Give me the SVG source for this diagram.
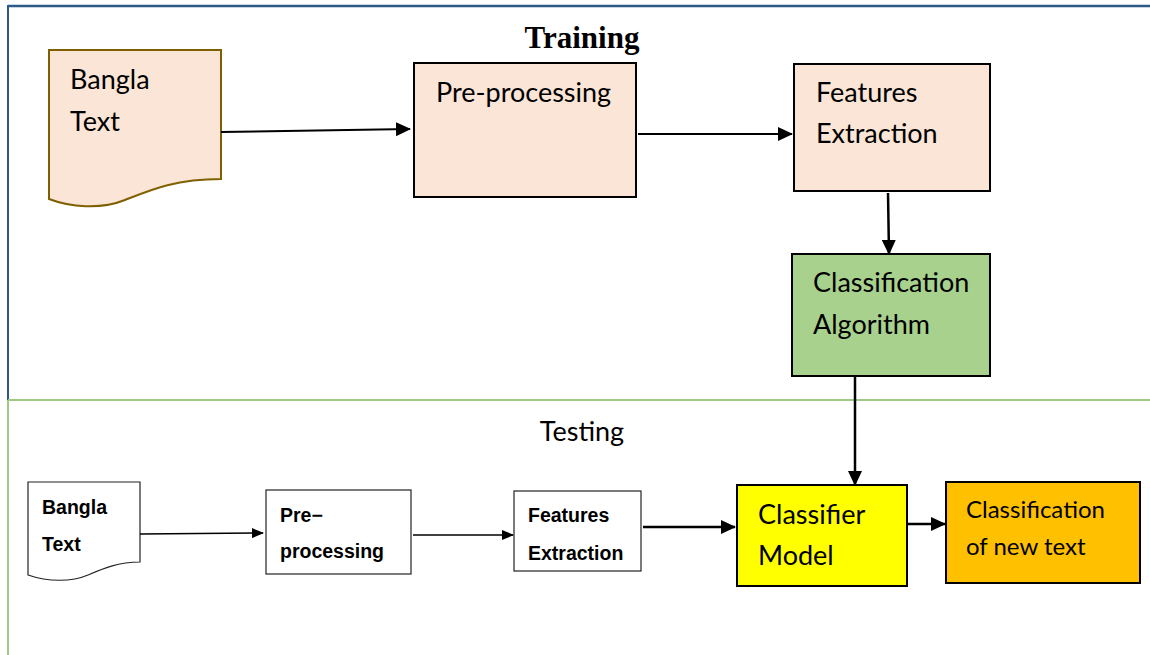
<svg xmlns="http://www.w3.org/2000/svg" width="1150" height="655" viewBox="0 0 1150 655">
<style>
.cal{font-family:Lato,"Open Sans","Liberation Sans",sans-serif;fill:#000}
.ar{font-family:"Liberation Sans",Arial,sans-serif;font-weight:bold;fill:#000}
.box{stroke:#000;stroke-width:2}
.peach{fill:#fbe5d6}
.thin{fill:#fff;stroke:#222;stroke-width:1.2}
.con{fill:none;stroke:#000}
</style>
<defs>
<marker id="ah" markerUnits="userSpaceOnUse" markerWidth="16" markerHeight="14" refX="14" refY="7" orient="auto">
<path d="M0,0 L15,7 L0,14 Z" fill="#000"/>
</marker>
<marker id="ahs" markerUnits="userSpaceOnUse" markerWidth="12" markerHeight="10" refX="11" refY="5" orient="auto">
<path d="M0,0 L12,5 L0,10 Z" fill="#000"/>
</marker>
</defs>
<rect width="1150" height="655" fill="#fff"/>
<g id="frame">
<line x1="8" y1="6" x2="1150" y2="6" stroke="#2e5a8a" stroke-width="2.5"/>
<line x1="8" y1="5" x2="8" y2="400" stroke="#2e5a8a" stroke-width="2"/>
<line x1="8" y1="400" x2="1150" y2="400" stroke="#9fc984" stroke-width="2"/>
<line x1="8" y1="400" x2="8" y2="655" stroke="#9fc984" stroke-width="2"/>
</g>
<text x="582" y="48" text-anchor="middle" font-family="'Liberation Serif','Times New Roman',serif" font-weight="bold" font-size="31">Training</text>
<text x="582" y="441" text-anchor="middle" class="cal" font-size="27">Testing</text>

<g id="train-doc">
<path d="M49,50 H221 V179 C175,179 150,190 125,200 C100,210 70,207 49,199 Z" fill="#fbe5d6" stroke="#7f6000" stroke-width="2"/>
<text class="cal" font-size="27" x="70" y="89">Bangla</text>
<text class="cal" font-size="27" x="70" y="131">Text</text>
</g>
<g id="train-pre">
<rect x="414" y="63" width="222" height="134" class="box peach"/>
<text class="cal" font-size="27" x="436" y="102">Pre-processing</text>
</g>
<g id="train-feat">
<rect x="794" y="64" width="196" height="127" class="box peach"/>
<text class="cal" font-size="27" x="816" y="102">Features</text>
<text class="cal" font-size="27" x="816" y="143">Extraction</text>
</g>
<g id="train-alg">
<rect x="792" y="254" width="198" height="122" class="box" fill="#a9d18e"/>
<text class="cal" font-size="27" x="813" y="292">Classification</text>
<text class="cal" font-size="27" x="813" y="334">Algorithm</text>
</g>

<g id="test-doc">
<path d="M28,482 H140 V562 C118,562 102,569 88,575 C72,582 48,582 28,575 Z" class="thin"/>
<text class="ar" font-size="19.5" x="42" y="514">Bangla</text>
<text class="ar" font-size="19.5" x="42" y="551">Text</text>
</g>
<g id="test-pre">
<rect x="266" y="490" width="145" height="84" class="thin"/>
<text class="ar" font-size="19.5" x="280" y="522">Pre−</text>
<text class="ar" font-size="19.5" x="280" y="558">processing</text>
</g>
<g id="test-feat">
<rect x="514" y="491" width="127" height="80" class="thin"/>
<text class="ar" font-size="19.5" x="528" y="522">Features</text>
<text class="ar" font-size="19.5" x="528" y="560">Extraction</text>
</g>
<g id="test-model">
<rect x="737" y="485" width="170" height="101" class="box" fill="#ffff00"/>
<text class="cal" font-size="27" x="758" y="524">Classifier</text>
<text class="cal" font-size="27" x="758" y="565">Model</text>
</g>
<g id="test-result">
<rect x="946" y="482" width="194" height="101" class="box" fill="#ffc000"/>
<text class="cal" font-size="24" x="966" y="518">Classification</text>
<text class="cal" font-size="24" x="966" y="555">of new text</text>
</g>

<g id="connectors">
<line x1="221" y1="132" x2="410" y2="129" class="con" stroke-width="2" marker-end="url(#ah)"/>
<line x1="638" y1="134" x2="792" y2="134" class="con" stroke-width="2" marker-end="url(#ah)"/>
<line x1="888" y1="193" x2="889" y2="254" class="con" stroke-width="2.5" marker-end="url(#ah)"/>
<line x1="855" y1="376" x2="855" y2="485" class="con" stroke-width="2.5" marker-end="url(#ah)"/>
<line x1="140" y1="534" x2="263" y2="533" class="con" stroke-width="1.5" marker-end="url(#ahs)"/>
<line x1="413" y1="535" x2="513" y2="535" class="con" stroke-width="1.5" marker-end="url(#ahs)"/>
<line x1="643" y1="527" x2="735" y2="527" class="con" stroke-width="2.5" marker-end="url(#ah)"/>
<line x1="907" y1="524" x2="945" y2="524" class="con" stroke-width="2.5" marker-end="url(#ah)"/>
</g>
</svg>
